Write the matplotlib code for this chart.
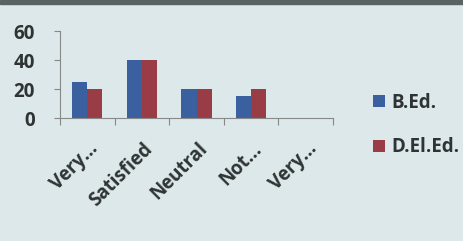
import numpy as np
import matplotlib.pyplot as plt
import matplotlib.transforms as mtransforms
from matplotlib.patches import Rectangle

categories = ["Very…", "Satisfied", "Neutral", "Not…", "Very…"]
bed = [25, 40, 20, 15, 0]
deled = [20, 40, 20, 20, 0]
series_names = ["B.Ed.", "D.El.Ed."]

blue = "#3a60a0"
red = "#9a3c45"
bg = "#dce8ea"
txt = "#2e3333"

plt.rcParams['font.family'] = ['Open Sans', 'DejaVu Sans']

fig = plt.figure(figsize=(4.64, 2.41), dpi=100)
fig.patch.set_facecolor(bg)
# dark edge at the top of the photo
fig.patches.append(Rectangle((0, 0.983), 1, 0.017, transform=fig.transFigure,
                             color="#5a6262", zorder=0))

ax = fig.add_axes([0.129, 0.51, 0.589, 0.361])
ax.set_facecolor(bg)

x = np.arange(len(categories))
w = 0.28
ax.bar(x - w / 2, bed, w, color=blue, label=series_names[0])
ax.bar(x + w / 2, deled, w, color=red, label=series_names[1])

ax.set_xlim(-0.5, len(categories) - 0.5)
ax.set_ylim(0, 60)
ax.set_yticks([0, 20, 40, 60])
ax.tick_params(axis='y', labelsize=13.5, length=4, color="#888888", pad=14)
for t in ax.get_yticklabels():
    t.set_fontweight('bold')
    t.set_color(txt)

# category boundary ticks on x axis, labels centered
ax.set_xticks(np.arange(len(categories) + 1) - 0.5)
ax.set_xticklabels([])
ax.tick_params(axis='x', length=5, color="#888888")
ax.set_xticks(x, minor=True)
ax.set_xticklabels(categories, minor=True, rotation=45, ha='right', va='center',
                   rotation_mode='anchor', fontsize=13.5, fontweight='bold',
                   color=txt)
ax.tick_params(axis='x', which='minor', length=0, pad=20)
shift = mtransforms.ScaledTranslation(0.08, 0, fig.dpi_scale_trans)
for t in ax.get_xticklabels(minor=True):
    t.set_transform(t.get_transform() + shift)

for s in ['top', 'right']:
    ax.spines[s].set_visible(False)
ax.spines['left'].set_color("#888888")
ax.spines['bottom'].set_color("#888888")

leg = ax.legend(loc='center left', bbox_to_anchor=(1.085, -0.08), frameon=False,
                handlelength=0.62, handleheight=0.62, handletextpad=0.35,
                labelspacing=1.3, prop={'size': 13.5, 'weight': 'bold'})
for t in leg.get_texts():
    t.set_color(txt)

fig.savefig("out.png", dpi=100, facecolor=bg)
